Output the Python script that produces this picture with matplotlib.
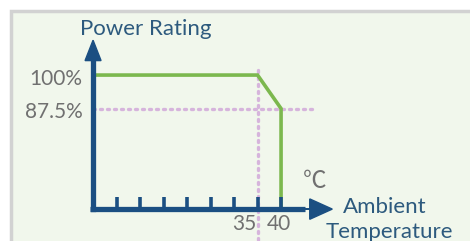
import matplotlib.pyplot as plt
from matplotlib.patches import Rectangle, FancyArrow

# derating curve (ambient temp in degC, power rating in %)
temp = [0, 35, 40, 40]
rating = [100, 100, 87.5, 50]

tick_temps = [5, 10, 15, 20, 25, 30, 35, 40]
y_labels = {100: "100%", 87.5: "87.5%"}

blue = "#1b4f82"
green = "#7cb84e"
pink = "#d6b4dc"
gray = "#707070"
textblue = "#2d5a7e"

plt.rcParams['font.family'] = ['Lato', 'DejaVu Sans']

fig = plt.figure(figsize=(4.7, 2.41), dpi=100)
fig.patch.set_facecolor("white")
ax = fig.add_axes([0, 0, 1, 1])
ax.set_xlim(-19.8, 80.2)
ax.set_ylim(38.1, 128.0)
ax.axis("off")

# background panel
ax.add_patch(Rectangle((0.024, -0.05), 1.1, 1.005, transform=ax.transAxes,
                       facecolor="#f1f7ec", edgecolor="#d2d2d2", lw=2.5, zorder=0))

# guide lines
ax.plot([0, 47.4], [87.5, 87.5], color=pink, lw=2.4, ls=(0, (0.6, 1.5)),
        dash_capstyle="round", zorder=1)
ax.plot([35, 35], [102, 38.5], color=pink, lw=2.4, ls=(0, (0.6, 1.5)),
        dash_capstyle="round", zorder=1)

# curve
ax.plot(temp, rating, color=green, lw=2.6, zorder=2, solid_joinstyle="miter")

# axes
ax.plot([0, 0], [50, 108], color=blue, lw=3.8, solid_capstyle="projecting", zorder=3)
ax.plot([-0.6, 45], [50, 50], color=blue, lw=3.8, solid_capstyle="butt", zorder=3)
ax.add_patch(FancyArrow(0, 105, 0, 8.0, width=0, head_width=3.4, head_length=7.6,
                        length_includes_head=True, color=blue, zorder=3))
ax.add_patch(FancyArrow(44, 50, 6.9, 0, width=0, head_width=7.6, head_length=4.8,
                        length_includes_head=True, color=blue, zorder=3))
for t in tick_temps:
    ax.plot([t, t], [50, 54.5], color=blue, lw=2.6, solid_capstyle="butt", zorder=3)

ax.text(34.8, 42.2, "35", ha="right", va="baseline", fontsize=15, color=gray)
ax.text(39.6, 42.2, "40", ha="center", va="baseline", fontsize=15, color=gray)
for v, s in y_labels.items():
    ax.text(-2.3, v - 3.6, s, ha="right", va="baseline", fontsize=15, color=gray)

ax.text(11.3, 114.9, "Power Rating", ha="center", va="baseline", fontsize=16, color=textblue)
ax.text(47.2, 60.4, "℃", ha="center", va="center", fontsize=17, color=gray,
        family=['Noto Sans CJK SC', 'DejaVu Sans'])
ax.text(62.1, 48.5, "Ambient", ha="center", va="baseline", fontsize=16, color=textblue)
ax.text(63.0, 39.2, "Temperature", ha="center", va="baseline", fontsize=16, color=textblue)

fig.savefig("out.png", dpi=100, facecolor="white")
